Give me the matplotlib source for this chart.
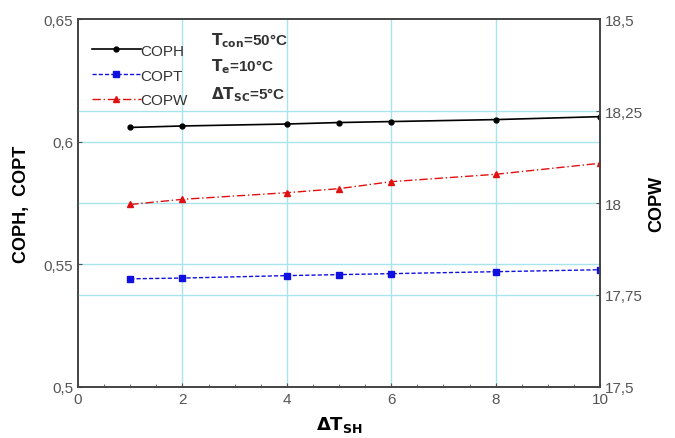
import matplotlib
matplotlib.use('Agg')
from matplotlib import pyplot as plt
from matplotlib.ticker import FuncFormatter, MultipleLocator

plt.rcParams['font.family'] = ['Liberation Sans', 'DejaVu Sans']

dT_sh = [1, 2, 4, 5, 6, 8, 10]
coph = [0.6058, 0.6064, 0.6072, 0.6078, 0.6082, 0.6090, 0.6102]
copt = [0.5441, 0.5444, 0.5454, 0.5458, 0.5462, 0.5470, 0.5478]
copw = [17.996, 18.010, 18.028, 18.039, 18.058, 18.078, 18.108]

left_ticks = [0.5, 0.55, 0.6, 0.65]
right_ticks = [17.5, 17.75, 18, 18.25, 18.5]
x_ticks = [0, 2, 4, 6, 8, 10]

grid_c = '#a8e4ec'
tick_c = '#555555'


def comma(v, pos):
    s = ('%.2f' % v).rstrip('0').rstrip('.')
    return s.replace('.', ',')


fig = plt.figure(figsize=(6.75, 4.39), dpi=100)
ax = fig.add_axes([0.1156, 0.1162, 0.7734, 0.8382])
ax2 = ax.twinx()

# grid lines (both axes contribute horizontal lines)
for v in [2, 4, 6, 8]:
    ax.axvline(v, color=grid_c, lw=1, zorder=0)
for v in [0.55, 0.6]:
    ax.axhline(v, color=grid_c, lw=1, zorder=0)
for v in [17.75, 18, 18.25]:
    ax2.axhline(v, color=grid_c, lw=1, zorder=0)

l1, = ax.plot(dT_sh, coph, color='black', lw=1.2, marker='o', ms=3.5, label='COPH')
l2, = ax.plot(dT_sh, copt, color='#1010e0', lw=1.0, ls=(0, (3, 1.5)), marker='s', ms=4, label='COPT')
l3, = ax2.plot(dT_sh, copw, color='#e01010', lw=1.0, ls=(0, (6, 2, 1, 2)), marker='^', ms=4, label='COPW')

ax.set_xlim(0, 10)
ax.set_ylim(0.5, 0.65)
ax2.set_ylim(17.5, 18.5)
ax.set_xticks(x_ticks)
ax.xaxis.set_minor_locator(MultipleLocator(0.5))
ax.set_yticks(left_ticks)
ax2.set_yticks(right_ticks)
ax.yaxis.set_major_formatter(FuncFormatter(comma))
ax2.yaxis.set_major_formatter(FuncFormatter(comma))

ax.tick_params(direction='in', colors=tick_c, labelsize=11, length=3)
ax.tick_params(which='minor', direction='in', length=2, color=tick_c)
ax2.tick_params(direction='in', colors=tick_c, labelsize=11, length=3)
for a in (ax, ax2):
    for sp in a.spines.values():
        sp.set_color('#444444')
        sp.set_linewidth(1.2)

ax.set_xlabel(r'$\mathbf{\Delta T_{SH}}$', fontsize=13, labelpad=6)
ax.set_ylabel('COPH,  COPT', fontsize=13, fontweight='bold', labelpad=10)
ax2.set_ylabel('COPW', fontsize=13, fontweight='bold', labelpad=4)

leg = ax.legend(handles=[l1, l2, l3], loc='upper left', bbox_to_anchor=(0.0, 0.97),
                frameon=False, fontsize=11, handlelength=3.2, handletextpad=0.0,
                labelspacing=0.7, markerscale=1.0)
for t in leg.get_texts():
    t.set_color('#333333')

ax.text(0.255, 0.93, r'$\mathbf{T_{con}}$=50°C', transform=ax.transAxes, fontsize=11, fontweight='bold', color='#333333')
ax.text(0.255, 0.86, r'$\mathbf{T_{e}}$=10°C', transform=ax.transAxes, fontsize=11, fontweight='bold', color='#333333')
ax.text(0.255, 0.785, r'$\mathbf{\Delta T_{SC}}$=5°C', transform=ax.transAxes, fontsize=11, fontweight='bold', color='#333333')

fig.savefig('out.png', dpi=100)
